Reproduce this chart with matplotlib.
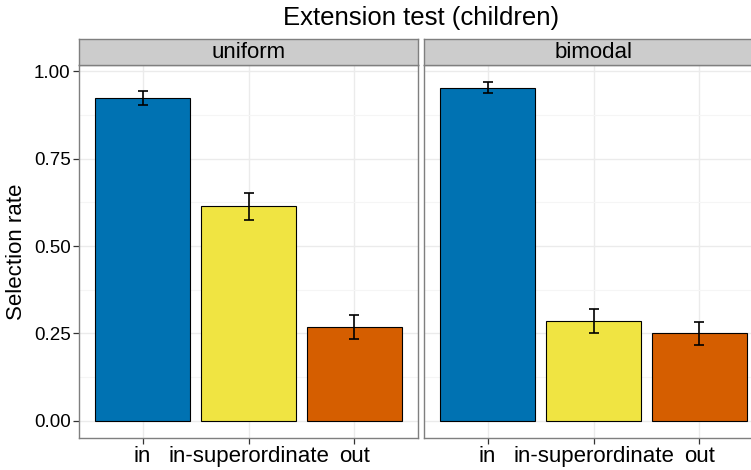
import numpy as np
import matplotlib
matplotlib.use("Agg")
import matplotlib.pyplot as plt
from matplotlib.ticker import MultipleLocator

plt.rcParams['font.family'] = ['Liberation Sans', 'DejaVu Sans']

# data
conditions = ['uniform', 'bimodal']
categories = ['in', 'in-superordinate', 'out']
rates = {
    'uniform': [0.923, 0.614, 0.268],
    'bimodal': [0.953, 0.286, 0.250],
}
err_low = {
    'uniform': [0.903, 0.576, 0.233],
    'bimodal': [0.937, 0.251, 0.216],
}
err_high = {
    'uniform': [0.944, 0.651, 0.302],
    'bimodal': [0.970, 0.321, 0.284],
}
colors = ['#0072B2', '#F0E442', '#D55E00']

W, H = 751, 470
fig = plt.figure(figsize=(W / 100, H / 100), dpi=100)

panel_w = 339
panel_top, panel_bot = 65, 437.7
strip_top = 39.3
lefts = [79, 424]

for cond, left in zip(conditions, lefts):
    ax = fig.add_axes([left / W, 1 - panel_bot / H, panel_w / W, (panel_bot - panel_top) / H])
    x = np.arange(1, len(categories) + 1)
    vals = np.array(rates[cond])
    lo = vals - np.array(err_low[cond])
    hi = np.array(err_high[cond]) - vals
    ax.bar(x, vals, width=0.9, color=colors, edgecolor='black', linewidth=0.8, zorder=3)
    ax.errorbar(x, vals, yerr=[lo, hi], fmt='none', ecolor='black', elinewidth=1.2,
                capsize=3.6, capthick=1.2, zorder=4)
    ax.set_xlim(0.4, 3.6)
    ax.set_ylim(-0.0485, 1.0185)
    ax.set_xticks(x)
    ax.set_xticklabels(categories, fontsize=16)
    ax.yaxis.set_major_locator(MultipleLocator(0.25))
    ax.yaxis.set_minor_locator(MultipleLocator(0.125))
    ax.grid(True, which='major', color='#EBEBEB', linewidth=1.0, zorder=0)
    ax.grid(True, which='minor', axis='y', color='#F5F5F5', linewidth=0.8, zorder=0)
    ax.tick_params(axis='y', which='minor', length=0)
    ax.tick_params(axis='both', which='major', length=4, width=0.9, color='#333333', pad=2)
    for s in ax.spines.values():
        s.set_color('#7F7F7F')
        s.set_linewidth(1.0)
    if left == lefts[0]:
        ax.set_yticks([0, 0.25, 0.5, 0.75, 1.0])
        ax.set_yticklabels(['0.00', '0.25', '0.50', '0.75', '1.00'], fontsize=13.5)
        ax.set_ylabel('Selection rate', fontsize=16, labelpad=5)
    else:
        ax.set_yticklabels([])
        ax.tick_params(axis='y', which='major', length=0)

    # facet strip
    sax = fig.add_axes([left / W, 1 - panel_top / H, panel_w / W, (panel_top - strip_top) / H])
    sax.set_facecolor('#CCCCCC')
    sax.set_xticks([])
    sax.set_yticks([])
    for s in sax.spines.values():
        s.set_color('#7F7F7F')
        s.set_linewidth(1.0)
    sax.text(0.5, 0.47, cond, ha='center', va='center', fontsize=16, transform=sax.transAxes)

fig.text((lefts[0] + lefts[1] + panel_w) / 2 / W, 1 - 18 / H, 'Extension test (children)',
         ha='center', va='center', fontsize=18.5)

fig.savefig('out.png', dpi=100)
